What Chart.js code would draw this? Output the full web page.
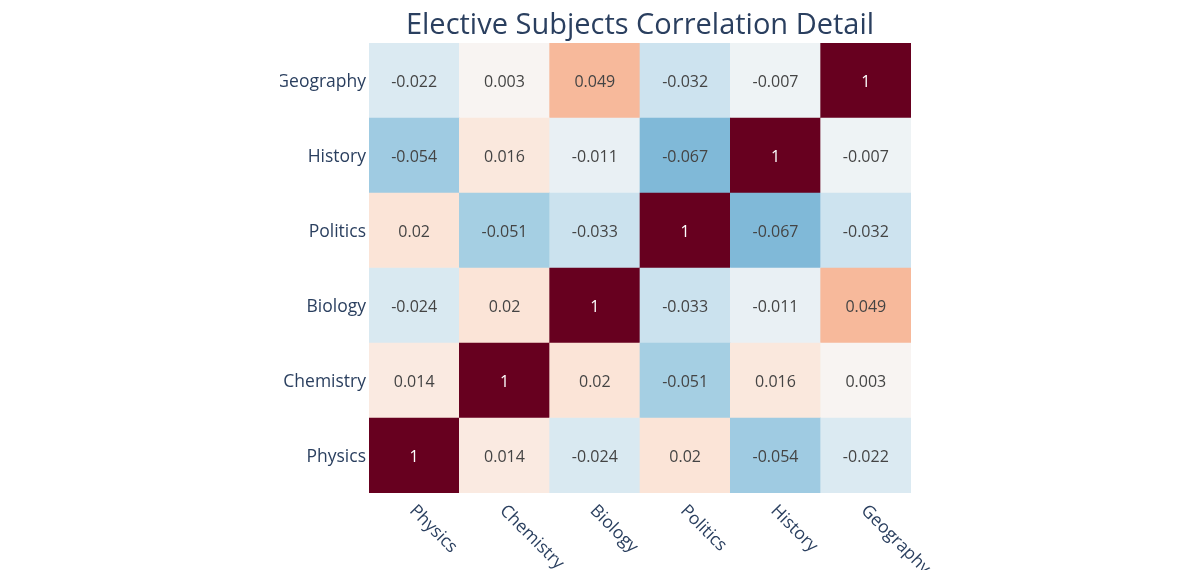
<!DOCTYPE html>
<html>
<head>
<meta charset="utf-8">
<script src="https://cdn.jsdelivr.net/npm/chart.js@4.4.0/dist/chart.umd.min.js"></script>
<style>
    html, body { margin: 0; padding: 0; background: #fff; }
    #wrap { position: relative; width: 1200px; height: 570px; overflow: hidden; }
    #corr-canvas { position: absolute; left: 280px; top: 0; }
</style>
</head>
<body>
<div id="wrap"><canvas id="corr-canvas" width="920" height="570"></canvas></div>
<script>
// subjects, in the order of the x axis and of the y axis (bottom to top)
const subjects = ["Physics", "Chemistry", "Biology", "Politics", "History", "Geography"];

// correlation rows, one per subject (columns follow `subjects`)
const physics   = [1, 0.014, -0.024, 0.02, -0.054, -0.022];
const chemistry = [0.014, 1, 0.02, -0.051, 0.016, 0.003];
const biology   = [-0.024, 0.02, 1, -0.033, -0.011, 0.049];
const politics  = [0.02, -0.051, -0.033, 1, -0.067, -0.032];
const history   = [-0.054, 0.016, -0.011, -0.067, 1, -0.007];
const geography = [-0.022, 0.003, 0.049, -0.032, -0.007, 1];

const rows = [physics, chemistry, biology, politics, history, geography];

// RdBu reversed, colour range clipped to [-0.15, 0.15]
const colorStops = [
    [5, 48, 97], [33, 102, 172], [67, 147, 195], [146, 197, 222], [209, 229, 240],
    [247, 247, 247], [253, 219, 199], [244, 165, 130], [214, 96, 77], [178, 24, 43], [103, 0, 31]
];
const colorMin = -0.15;
const colorMax = 0.15;

function cellColor(v) {
    let t = (v - colorMin) / (colorMax - colorMin);
    t = Math.max(0, Math.min(1, t));
    const pos = t * (colorStops.length - 1);
    const i = Math.min(Math.floor(pos), colorStops.length - 2);
    const f = pos - i;
    const a = colorStops[i], b = colorStops[i + 1];
    const c = a.map((x, k) => Math.round(x + (b[k] - x) * f));
    return "rgb(" + c.join(",") + ")";
}

const fontFamily = "'Open Sans', verdana, arial, sans-serif";
const textColor = "#2a3f5f";

// value text in each cell
const cellTextPlugin = {
    id: "cellText",
    afterDatasetsDraw(chart) {
        const ctx = chart.ctx;
        ctx.save();
        ctx.font = "16px " + fontFamily;
        ctx.textAlign = "center";
        ctx.textBaseline = "middle";
        rows.forEach(function (row, i) {
            const meta = chart.getDatasetMeta(i);
            meta.data.forEach(function (bar, j) {
                const v = row[j];
                ctx.fillStyle = v > 0.1 ? "#ffffff" : "#444444";
                ctx.fillText(String(v), bar.x, (bar.y + bar.base) / 2 + 2);
            });
        });
        ctx.restore();
    }
};

// x labels rotated 45 degrees clockwise, starting at the tick
const xLabelPlugin = {
    id: "xLabels",
    afterDraw(chart) {
        const ctx = chart.ctx;
        const xScale = chart.scales.x;
        const top = chart.chartArea.bottom;
        ctx.save();
        ctx.font = "17.5px " + fontFamily;
        ctx.fillStyle = textColor;
        ctx.textAlign = "left";
        ctx.textBaseline = "middle";
        subjects.forEach(function (s, i) {
            const x = xScale.getPixelForValue(i);
            ctx.save();
            ctx.translate(x - 2, top + 15);
            ctx.rotate(Math.PI / 4);
            ctx.fillText(s, 0, 0);
            ctx.restore();
        });
        ctx.restore();
    }
};

const ctx = document.getElementById("corr-canvas").getContext("2d");
const corrChart = new Chart(ctx, {
    type: "bar",
    data: {
        labels: subjects,
        datasets: rows.map(function (row, i) {
            return {
                label: subjects[i],
                data: row.map(function () { return 1; }),
                backgroundColor: row.map(cellColor),
                borderWidth: 0,
                barPercentage: 1,
                categoryPercentage: 1
            };
        })
    },
    options: {
        responsive: false,
        animation: false,
        layout: { padding: { left: 0, right: 289, top: 0, bottom: 0 } },
        plugins: {
            legend: { display: false },
            tooltip: { enabled: false },
            title: {
                display: true,
                text: "Elective Subjects Correlation Detail",
                fullSize: false,
                color: textColor,
                font: { size: 29, family: fontFamily, weight: "normal" },
                padding: { top: 8, bottom: 0.2 }
            }
        },
        scales: {
            x: {
                stacked: true,
                grid: { display: false },
                border: { display: false },
                ticks: { display: false },
                afterFit: function (scale) { scale.height = 77; }
            },
            y: {
                stacked: true,
                min: 0,
                max: subjects.length,
                grid: { display: false, drawTicks: false },
                border: { display: false },
                afterBuildTicks: function (scale) {
                    scale.ticks = subjects.map(function (s, i) { return { value: i + 0.5 }; });
                },
                ticks: {
                    padding: 3,
                    labelOffset: 2,
                    color: textColor,
                    font: { size: 17.5, family: fontFamily },
                    callback: function (value) { return subjects[Math.floor(value)]; }
                },
                afterFit: function (scale) { scale.width = 89; }
            }
        }
    },
    plugins: [cellTextPlugin, xLabelPlugin]
});
</script>
</body>
</html>
